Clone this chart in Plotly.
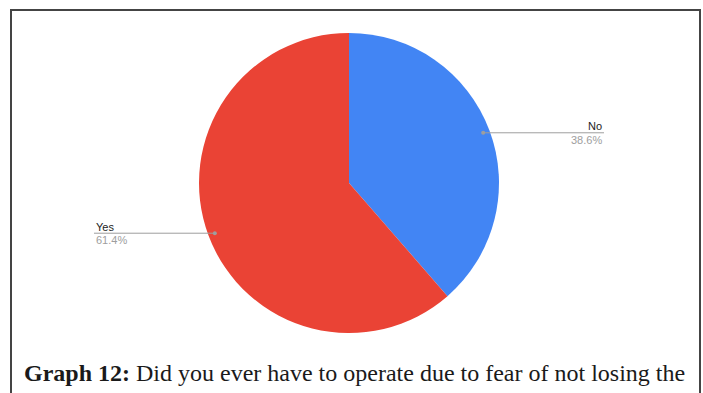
import math
import plotly.graph_objects as go

# Survey answers and their shares (percent)
labels = ["No", "Yes"]
values = [38.6, 61.4]
colors = ["#4285F4", "#EA4335"]

caption_bold = "Graph 12:"
caption_rest = " Did you ever have to operate due to fear of not losing the"

W, H = 703, 393
cx, cy, R = 349, 183, 150  # pie centre and radius in pixels


def px(x):
    return x / W


def py(y):
    return 1 - y / H


fig = go.Figure()
fig.add_trace(go.Pie(
    labels=labels,
    values=values,
    marker=dict(colors=colors, line=dict(width=0)),
    sort=False,
    direction="clockwise",
    rotation=0,
    textinfo="none",
    hoverinfo="label+percent",
    domain=dict(x=[px(cx - R), px(cx + R)], y=[py(cy + R), py(cy - R)]),
    showlegend=False,
))

shapes = []
annotations = []

# frame around the figure panel
shapes.append(dict(type="rect", xref="paper", yref="paper",
                   x0=px(11), x1=px(700), y0=py(10), y1=-0.2,
                   line=dict(color="#444444", width=2), fillcolor="rgba(0,0,0,0)"))

# leader lines from each slice midpoint to its label
total = sum(values)
start = 0.0
label_x = {"No": 604, "Yes": 94}
for lab, val in zip(labels, values):
    mid = (start + val / 2) / total * 2 * math.pi
    start += val
    ex = cx + 0.955 * R * math.sin(mid)
    ey = cy - 0.955 * R * math.cos(mid)
    lx = label_x[lab]
    shapes.append(dict(type="line", xref="paper", yref="paper",
                       x0=px(ex), x1=px(lx), y0=py(ey), y1=py(ey),
                       line=dict(color="#9e9e9e", width=1)))
    shapes.append(dict(type="circle", xref="paper", yref="paper",
                       x0=px(ex - 2), x1=px(ex + 2), y0=py(ey - 2), y1=py(ey + 2),
                       line=dict(width=0), fillcolor="#9e9e9e"))
    right = ex > cx
    anchor = "right" if right else "left"
    annotations.append(dict(xref="paper", yref="paper", x=px(lx), y=py(ey - 6.5),
                            text=lab, showarrow=False, xanchor=anchor, yanchor="middle",
                            font=dict(family="Arial, Liberation Sans", size=11, color="#222222")))
    annotations.append(dict(xref="paper", yref="paper", x=px(lx), y=py(ey + 7),
                            text=f"{val:.1f}%", showarrow=False, xanchor=anchor, yanchor="middle",
                            font=dict(family="Arial, Liberation Sans", size=11, color="#9e9e9e")))

annotations.append(dict(xref="paper", yref="paper", x=px(22), y=py(373),
                        text=f"<b>{caption_bold}</b>{caption_rest}", showarrow=False,
                        xanchor="left", yanchor="middle",
                        font=dict(family="Liberation Serif, DejaVu Serif", size=24, color="#1a1a1a")))

fig.update_layout(
    width=W, height=H,
    margin=dict(l=0, r=0, t=0, b=0),
    paper_bgcolor="white",
    plot_bgcolor="white",
    shapes=shapes,
    annotations=annotations,
)

fig.write_html("out.html")
